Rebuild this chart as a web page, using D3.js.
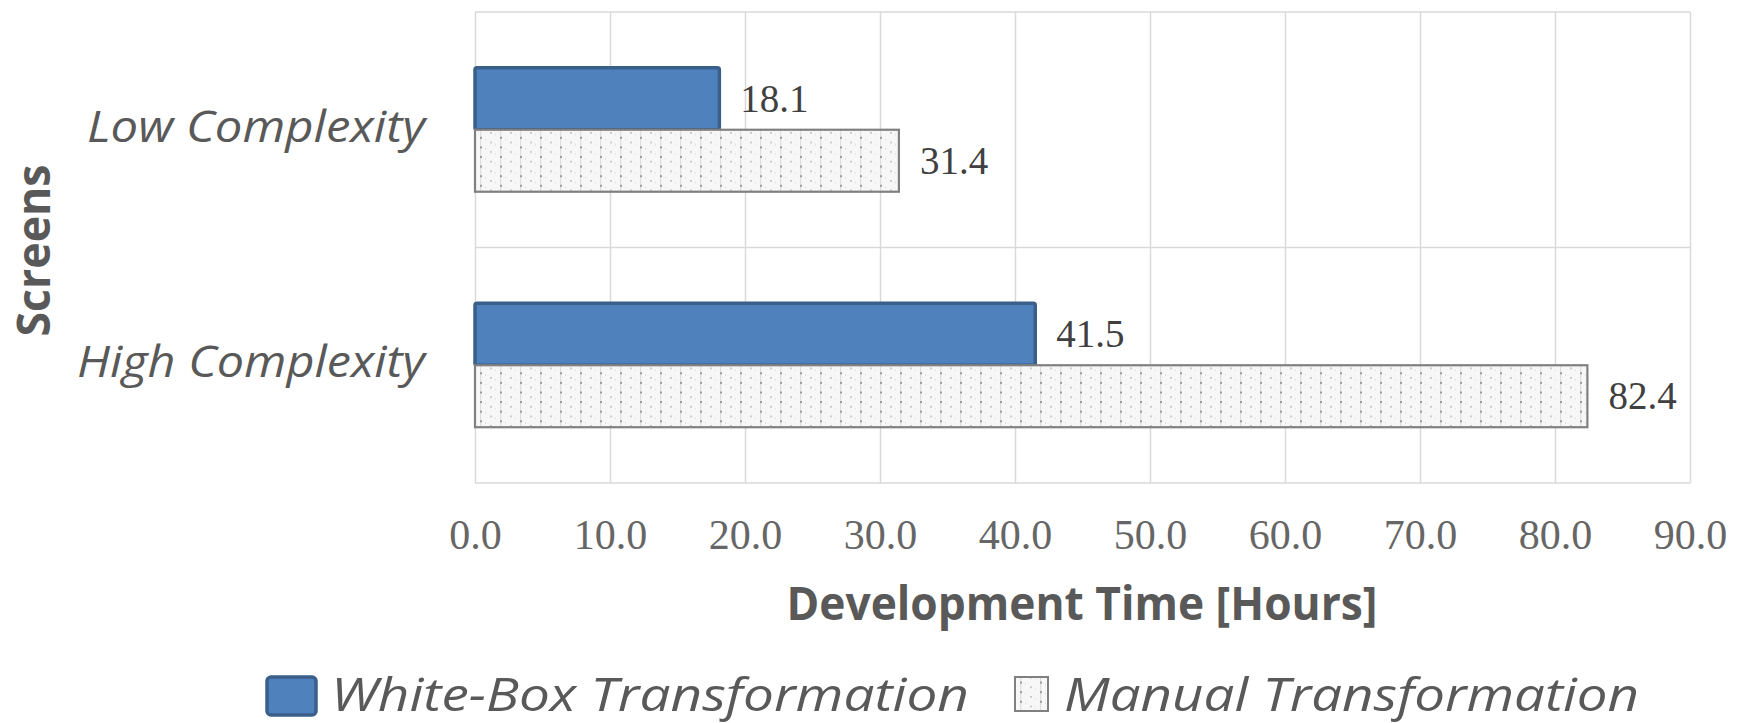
<!DOCTYPE html>
<html>
<head>
<meta charset="utf-8">
<script src="https://cdn.jsdelivr.net/npm/d3@7"></script>
<style>
  html, body { margin: 0; padding: 0; background: #ffffff; }
  svg { display: block; }
</style>
</head>
<body>
<svg id="chart" width="1742" height="723"></svg>
<script>
// Development time per screen type, white-box vs. manual transformation
const categories = ["Low Complexity", "High Complexity"];
const seriesNames = ["White-Box Transformation", "Manual Transformation"];
const whiteBoxHours = [18.1, 41.5];
const manualHours = [31.4, 82.4];
const xTicks = [0, 10, 20, 30, 40, 50, 60, 70, 80, 90];
const xTitle = "Development Time [Hours]";
const yTitle = "Screens";

const rows = categories.map((c, i) => ({
  category: c,
  values: [
    { series: seriesNames[0], value: whiteBoxHours[i] },
    { series: seriesNames[1], value: manualHours[i] }
  ]
}));

const svg = d3.select("#chart");
const W = 1742, H = 723;
const plot = { left: 475, right: 1690, top: 12, bottom: 483 };

svg.append("rect").attr("width", W).attr("height", H).attr("fill", "#ffffff");

// Dotted fill used by the manual transformation bars
const defs = svg.append("defs");
const pat = defs.append("pattern")
  .attr("id", "dots")
  .attr("patternUnits", "userSpaceOnUse")
  .attr("width", 20).attr("height", 9.6);
pat.append("rect").attr("width", 20).attr("height", 9.6).attr("fill", "#f7f7f7");
pat.append("rect").attr("x", 0).attr("y", 0).attr("width", 1.2).attr("height", 9.6).attr("fill", "#dedede");
pat.append("rect").attr("x", 0).attr("y", 0).attr("width", 2).attr("height", 2).attr("fill", "#9a9a9a");
pat.append("rect").attr("x", 10).attr("y", 4.8).attr("width", 2).attr("height", 1.6).attr("fill", "#c4c4c4");
pat.append("rect").attr("x", 5).attr("y", 2).attr("width", 1).attr("height", 1).attr("fill", "#d4d4d4");
pat.append("rect").attr("x", 15).attr("y", 7).attr("width", 1).attr("height", 1).attr("fill", "#d4d4d4");

const x = d3.scaleLinear().domain([0, 90]).range([plot.left, plot.right]);
const y = d3.scaleBand().domain(categories).range([plot.top, plot.bottom]);
const sub = d3.scaleBand().domain(seriesNames).range([0, y.bandwidth()]).paddingOuter(0.9);

const gridColor = "#d9d9d9";

// Vertical gridlines
svg.append("g")
  .attr("transform", `translate(0,${plot.bottom})`)
  .call(d3.axisBottom(x).tickValues(xTicks).tickSize(-(plot.bottom - plot.top)).tickFormat(""))
  .call(g => g.select(".domain").remove())
  .call(g => g.selectAll("line").attr("stroke", gridColor).attr("stroke-width", 1.5));

// Horizontal lines at category boundaries
const bounds = categories.map(c => y(c)).concat([plot.bottom]);
svg.append("g").selectAll("line").data(bounds).join("line")
  .attr("x1", plot.left).attr("x2", plot.right)
  .attr("y1", d => d).attr("y2", d => d)
  .attr("stroke", gridColor).attr("stroke-width", 1.5);

// X axis tick labels
const xAxis = svg.append("g")
  .attr("transform", `translate(0,${plot.bottom})`)
  .call(d3.axisBottom(x).tickValues(xTicks).tickSize(0).tickFormat(d3.format(".1f")));
xAxis.select(".domain").remove();
xAxis.selectAll("text")
  .attr("y", 66).attr("dy", 0)
  .attr("fill", "#666666")
  .style("font-family", "'Liberation Serif', serif")
  .style("font-size", "42px");

// Category labels, right-aligned against the plot
const labelWidths = { "Low Complexity": 338, "High Complexity": 348 };
const yAxis = svg.append("g")
  .attr("transform", `translate(${plot.left},0)`)
  .call(d3.axisLeft(y).tickSize(0).tickPadding(50));
yAxis.select(".domain").remove();
yAxis.selectAll("text")
  .attr("dy", 0)
  .attr("y", 12)
  .attr("textLength", d => labelWidths[d])
  .attr("lengthAdjust", "spacingAndGlyphs")
  .attr("fill", "#595959")
  .style("font-family", "'Open Sans', sans-serif")
  .style("font-style", "italic")
  .style("font-size", "44px");

// Bars
const groups = svg.append("g").selectAll("g").data(rows).join("g")
  .attr("transform", d => `translate(0,${y(d.category)})`);

groups.selectAll("rect").data(d => d.values).join("rect")
  .attr("x", x(0))
  .attr("y", d => sub(d.series))
  .attr("width", d => x(d.value) - x(0))
  .attr("height", sub.bandwidth())
  .attr("rx", d => d.series === seriesNames[0] ? 2 : 0)
  .attr("fill", d => d.series === seriesNames[0] ? "#4f81bd" : "url(#dots)")
  .attr("stroke", d => d.series === seriesNames[0] ? "#3a5f8b" : "#808080")
  .attr("stroke-width", d => d.series === seriesNames[0] ? 3.5 : 2.2);

// Value labels
groups.selectAll("text").data(d => d.values).join("text")
  .attr("x", d => x(d.value) + 21)
  .attr("y", d => sub(d.series) + sub.bandwidth() / 2 + 13)
  .attr("fill", "#404040")
  .style("font-family", "'Liberation Serif', serif")
  .style("font-size", "39px")
  .text(d => d3.format(".1f")(d.value));

// Axis titles
svg.append("text")
  .attr("x", (plot.left + plot.right) / 2 - 0.5)
  .attr("y", 620)
  .attr("text-anchor", "middle")
  .attr("fill", "#595959")
  .attr("textLength", 591)
  .attr("lengthAdjust", "spacingAndGlyphs")
  .style("font-family", "'Open Sans', sans-serif")
  .style("font-weight", "bold")
  .style("font-size", "46px")
  .text(xTitle);

svg.append("text")
  .attr("transform", `translate(50,${(plot.top + plot.bottom) / 2 + 3}) rotate(-90)`)
  .attr("text-anchor", "middle")
  .attr("fill", "#595959")
  .attr("textLength", 172)
  .attr("lengthAdjust", "spacingAndGlyphs")
  .style("font-family", "'Open Sans', sans-serif")
  .style("font-weight", "bold")
  .style("font-size", "46px")
  .text(yTitle);

// Legend
const legend = svg.append("g");
legend.append("rect")
  .attr("x", 267).attr("y", 677).attr("width", 49).attr("height", 38).attr("rx", 4)
  .attr("fill", "#4f81bd").attr("stroke", "#3a5f8b").attr("stroke-width", 3.5);
legend.append("text")
  .attr("x", 331).attr("y", 711)
  .attr("fill", "#595959")
  .attr("textLength", 638)
  .attr("lengthAdjust", "spacingAndGlyphs")
  .style("font-family", "'Open Sans', sans-serif")
  .style("font-style", "italic")
  .style("font-size", "45px")
  .text(seriesNames[0]);
legend.append("rect")
  .attr("x", 1015).attr("y", 677).attr("width", 33).attr("height", 34)
  .attr("fill", "url(#dots)").attr("stroke", "#808080").attr("stroke-width", 2);
legend.append("text")
  .attr("x", 1064).attr("y", 711)
  .attr("fill", "#595959")
  .attr("textLength", 575)
  .attr("lengthAdjust", "spacingAndGlyphs")
  .style("font-family", "'Open Sans', sans-serif")
  .style("font-style", "italic")
  .style("font-size", "45px")
  .text(seriesNames[1]);
</script>
</body>
</html>
